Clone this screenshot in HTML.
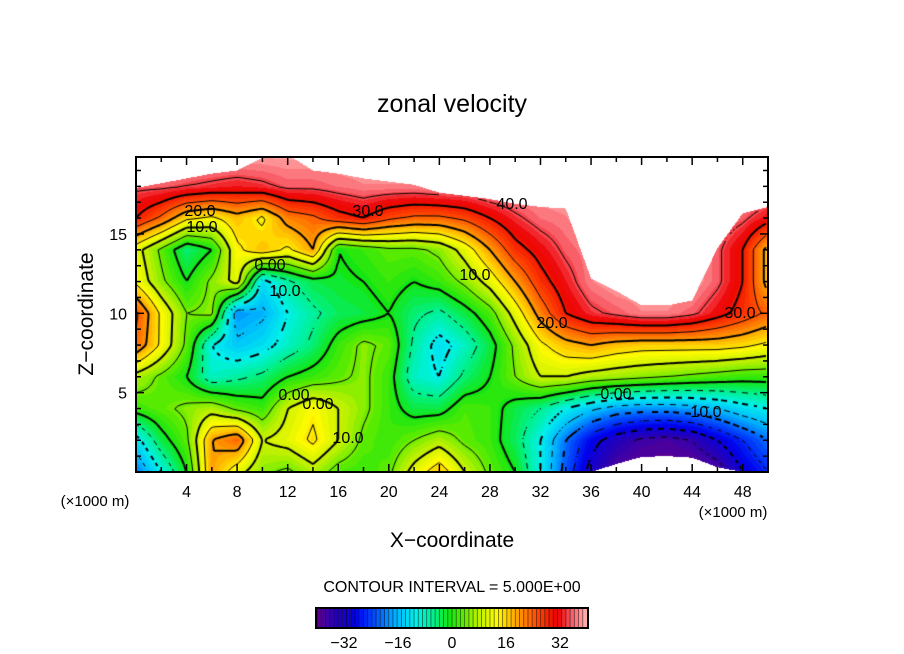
<!DOCTYPE html>
<html><head><meta charset="utf-8"><style>
html,body{margin:0;padding:0;background:#fff;}
#wrap{position:relative;width:904px;height:654px;overflow:hidden;font-family:"Liberation Sans",sans-serif;}
canvas,svg{position:absolute;left:0;top:0;}
</style></head><body>
<div id="wrap">
<canvas id="cv" width="904" height="654"></canvas>
<svg id="sv" width="904" height="654"></svg>
</div>
<script>
// ---- data ----
const xNodes=[0,2,4,6,8,10,12,14,16,18,20,22,24,26,28,30,32,34,36,38,40,42,44,46,48,50];
const zNodes=[0,2,4,6,8,10,12,14,16,18,20];
const row0=[-20,-10,0,20,12,6,4,8,3,2,4,12,18,10,4,0,-10,-22,-32,-38,-40,-40,-40,-38,-30,-25];
const row2=[-12,-2,4,20,24,10,12,16,10,4,2,5,8,4,2,-3,-10,-20,-28,-33,-36,-37,-35,-30,-25,-20];
const row4=[2,4,6,8,4,2,10,14,10,6,2,-2,-2,3,2,-2,-5,-10,-14,-17,-18,-18,-17,-15,-12,-10];
const row6=[8,4,0,-8,-6,-4,0,2,4,6,2,-8,-10,-4,0,5,10,10,8,7,6,5,4,3,2,2];
const row8=[24,14,4,-10,-14,-12,-8,-4,2,6,4,-6,-12,-8,-2,6,14,18,20,18,17,17,17,17,16,14];
const row10=[26,14,5,6,-18,-16,-10,-6,-3,-2,0,-4,-6,-2,3,12,22,30,34,36,38,38,36,32,28,24];
const row12=[14,6,0,6,12,-12,-6,-2,-1,0,2,0,2,6,12,20,28,33,38,40,40,40,40,36,30,18];
const row14=[12,4,-4,0,14,18,14,20,0,2,4,4,6,12,20,28,32,36,38,40,40,40,40,36,30,18];
const row16=[30,24,16,14,18,14,22,24,28,30,26,24,24,26,30,34,37,38,40,40,40,40,40,38,36,32];
const row18=[36,36,35,34,33,34,36,36,37,38,38,38,39,39,40,40,40,40,40,40,40,40,40,40,40,40];
const row20=[40,40,40,40,40,40,40,40,40,40,40,40,40,40,40,40,40,40,40,40,40,40,40,40,40,40];
const rows=[row0,row2,row4,row6,row8,row10,row12,row14,row16,row18,row20];
const surfaceTop=[17.9,18.2,18.5,18.8,19.0,19.8,20,19.0,18.8,18.5,18.3,18.1,17.6,17.4,17.2,16.9,16.7,16.6,12.2,11.4,10.5,10.5,10.8,14.1,16.3,16.7];
const holeBottom=[0,0,0,0,0,0,0,0,0,0,0,0,0,0,0,0,0,0,0,0.5,0.95,1.0,0.9,0.3,0,0];
const levels=[-35,-30,-25,-20,-15,-10,-5,0,5,10,15,20,25,30,35];
const xTicks=[4,8,12,16,20,24,28,32,36,40,44,48];
const zTicks=[5,10,15];
const cbTicks=[-32,-16,0,16,32];

// ---- axes ----
const PL=136,PR=768,PT=157,PB=472;
const X0=0,X1=50,Z0=0,Z1=19.85;
const sx=x=>PL+(x-X0)/(X1-X0)*(PR-PL);
const sz=z=>PB-(z-Z0)/(Z1-Z0)*(PB-PT);

function lin(arr,x){const t=x/2;let i=Math.floor(t);if(i<0)i=0;if(i>arr.length-2)i=arr.length-2;const f=t-i;return arr[i]*(1-f)+arr[i+1]*f;}
function field(x,z){
  if(z>lin(surfaceTop,x)||z<lin(holeBottom,x))return NaN;
  let ti=x/2,tj=z/2;let i=Math.min(Math.floor(ti),xNodes.length-2),j=Math.min(Math.floor(tj),zNodes.length-2);
  if(i<0)i=0;if(j<0)j=0;const fx=ti-i,fz=tj-j;
  return rows[j][i]*(1-fx)*(1-fz)+rows[j][i+1]*fx*(1-fz)+rows[j+1][i]*(1-fx)*fz+rows[j+1][i+1]*fx*fz;
}
const stops=[[-40,[100,0,140]],[-34,[40,0,180]],[-28,[0,0,235]],[-22,[0,80,255]],[-16,[0,180,255]],[-10,[0,240,235]],[-5,[0,240,140]],[0,[20,230,20]],[4,[90,235,0]],[8,[180,240,0]],[14,[255,250,0]],[20,[255,160,0]],[26,[255,70,0]],[32,[235,0,0]],[36,[248,90,100]],[40,[255,170,170]]];
function cmap(v){
  v=Math.round(v/1.25)*1.25;
  if(v<=stops[0][0])return stops[0][1];
  for(let k=1;k<stops.length;k++){if(v<=stops[k][0]){const a=stops[k-1],b=stops[k];const f=(v-a[0])/(b[0]-a[0]);return a[1].map((c,q)=>Math.round(c+(b[1][q]-c)*f));}}
  return stops[stops.length-1][1];
}
const cv=document.getElementById('cv');const ctx=cv.getContext('2d');
const img=ctx.createImageData(PR-PL,PB-PT);
for(let py=0;py<PB-PT;py++){for(let px=0;px<PR-PL;px++){
  const x=X0+(px+0.5)/(PR-PL)*(X1-X0), z=Z1-(py+0.5)/(PB-PT)*(Z1-Z0);
  const v=field(x,z);const o=(py*(PR-PL)+px)*4;
  if(isNaN(v)){img.data[o]=255;img.data[o+1]=255;img.data[o+2]=255;}else{const c=cmap(v);img.data[o]=c[0];img.data[o+1]=c[1];img.data[o+2]=c[2];}
  img.data[o+3]=255;}}
ctx.putImageData(img,PL,PT);
// contours (marching squares)
const st=3;const nx=Math.floor((PR-PL)/st)+1,nz=Math.floor((PB-PT)/st)+1;
const G=[];for(let j=0;j<nz;j++){G.push([]);for(let i=0;i<nx;i++){const x=X0+(i*st)/(PR-PL)*(X1-X0),z=Z1-(j*st)/(PB-PT)*(Z1-Z0);G[j].push(field(x,z));}}
ctx.save();ctx.beginPath();ctx.rect(PL,PT,PR-PL,PB-PT);ctx.clip();
levels.forEach(L=>{
  ctx.lineWidth=(L%10===0)?2:1;ctx.strokeStyle='#000';ctx.beginPath();
  for(let j=0;j<nz-1;j++)for(let i=0;i<nx-1;i++){
    if(L<0&&((i+j)%4)>=2)continue;
    const a=G[j][i],b=G[j][i+1],c=G[j+1][i+1],d=G[j+1][i];
    if(isNaN(a)||isNaN(b)||isNaN(c)||isNaN(d))continue;
    const pts=[];const X=PL+i*st,Y=PT+j*st;
    const e=(p,q,px1,py1,px2,py2)=>{if((p-L)*(q-L)<0){const t=(L-p)/(q-p);pts.push([px1+(px2-px1)*t,py1+(py2-py1)*t]);}};
    e(a,b,X,Y,X+st,Y);e(b,c,X+st,Y,X+st,Y+st);e(c,d,X+st,Y+st,X,Y+st);e(d,a,X,Y+st,X,Y);
    for(let k=0;k+1<pts.length;k+=2){ctx.moveTo(pts[k][0],pts[k][1]);ctx.lineTo(pts[k+1][0],pts[k+1][1]);}
  }
  ctx.stroke();
});
ctx.restore();

// ---- svg overlay ----
const NS='http://www.w3.org/2000/svg';const sv=document.getElementById('sv');
function mk(tag,attrs,txt){const e=document.createElementNS(NS,tag);for(const k in attrs)e.setAttribute(k,attrs[k]);if(txt!==undefined)e.textContent=txt;sv.appendChild(e);return e;}
let t;
t=mk('rect',{x:PL,y:PT,width:PR-PL,height:PB-PT,fill:'none',stroke:'#000','stroke-width':2});


for(let x=2;x<50;x+=2){const L=(x%4===0)?8:5;
  t=mk('line',{x1:sx(x),x2:sx(x),y1:PB,y2:PB-L,stroke:'#000','stroke-width':1.5});
  
  
  t=mk('line',{x1:sx(x),x2:sx(x),y1:PT,y2:PT+L,stroke:'#000','stroke-width':1.5});
  
  }
for(let z=1;z<20;z++){const L=(z%5===0)?8:5;
  t=mk('line',{x1:PL,x2:PL+L,y1:sz(z),y2:sz(z),stroke:'#000','stroke-width':1.5});
  
  
  t=mk('line',{x1:PR,x2:PR-L,y1:sz(z),y2:sz(z),stroke:'#000','stroke-width':1.5});
  
  }
xTicks.forEach(v=>{t=mk('text',{x:sx(v),y:497,'text-anchor':'middle','font-size':16},String(v));
  
  });
zTicks.forEach(v=>{t=mk('text',{x:127,y:sz(v)+6,'text-anchor':'end','font-size':16},String(v));
  
  });
// contour labels
const clabels=[[200,216,'20.0'],[202,232,'10.0'],[368,216,'30.0'],[512,209,'40.0'],[475,280,'10.0'],[552,328,'20.0'],[740,318,'30.0'],[616,399,'0.00'],[706,417,'10.0'],[294,400,'0.00'],[318,409,'0.00'],[348,443,'10.0'],[285,296,'10.0'],[270,270,'0.00']];
clabels.forEach(c=>{t=mk('text',{x:c[0],y:c[1],'text-anchor':'middle','font-size':16},c[2]);
  
  });
t=mk('text',{x:452,y:112,'text-anchor':'middle','font-size':25},'zonal velocity');


t=mk('text',{x:452,y:547,'text-anchor':'middle','font-size':21},'X\u2212coordinate');


t=mk('text',{x:0,y:0,'text-anchor':'middle','font-size':21,transform:'translate(93,314) rotate(-90)'},'Z\u2212coordinate');


t=mk('text',{x:95,y:506,'text-anchor':'middle','font-size':15},'(\u00d71000 m)');


t=mk('text',{x:733,y:517,'text-anchor':'middle','font-size':15},'(\u00d71000 m)');


t=mk('text',{x:452,y:592,'text-anchor':'middle','font-size':16},'CONTOUR INTERVAL = 5.000E+00');


// colorbar
const CBL=317,CBR=587,CBT=609,CBB=627;const cbx=v=>CBL+(v+40)/80*(CBR-CBL);
const nb=64;
for(let k=0;k<nb;k++){const v=-40+(k+0.5)*80/nb;const c=cmap(v);
  t=mk('rect',{x:cbx(-40+k*80/nb),y:CBT,width:(CBR-CBL)/nb,height:CBB-CBT,fill:'rgb('+c.join(',')+')'});
  
  
  t=mk('line',{x1:cbx(-40+k*80/nb),x2:cbx(-40+k*80/nb),y1:CBT,y2:CBB,stroke:'#000','stroke-width':0.8,'stroke-opacity':0.6});
  
  }
t=mk('rect',{x:CBL-1,y:CBT-1,width:CBR-CBL+2,height:CBB-CBT+2,fill:'none',stroke:'#000','stroke-width':2});


cbTicks.forEach(v=>{t=mk('text',{x:cbx(v),y:648,'text-anchor':'middle','font-size':16},(v<0?'\u2212':'')+Math.abs(v));
  
  });
</script>
</body></html>
